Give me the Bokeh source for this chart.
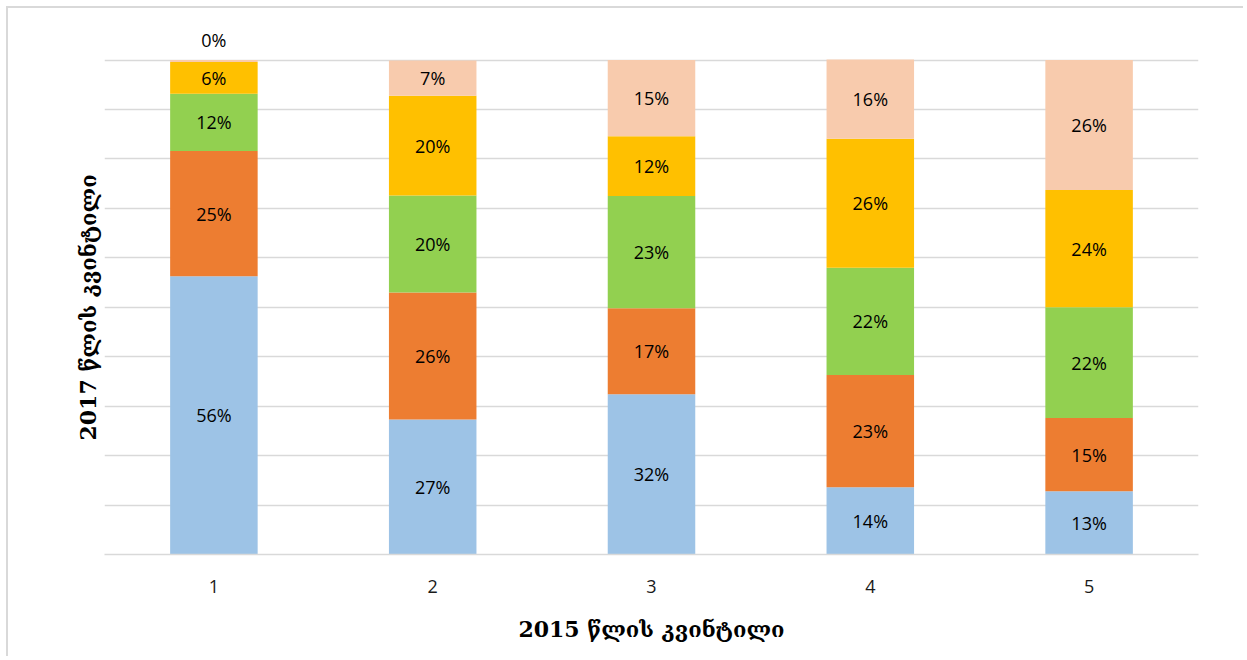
from bokeh.plotting import figure
from bokeh.models import ColumnDataSource, LabelSet, FixedTicker, Range1d, Title
from bokeh.core.properties import value
from bokeh.embed import file_html
from bokeh.resources import INLINE

# ---- data ----
categories = ["1", "2", "3", "4", "5"]          # 2015 quintile
q1 = [56.3, 27.3, 32.4, 13.6, 12.8]             # 2017 quintile 1 (blue)
q2 = [25.3, 25.7, 17.4, 22.7, 14.8]             # 2017 quintile 2 (orange)
q3 = [11.6, 19.6, 22.7, 21.7, 22.4]             # 2017 quintile 3 (green)
q4 = [6.4, 20.2, 12.1, 26.1, 23.7]              # 2017 quintile 4 (yellow)
q5 = [0.4, 7.1, 15.4, 16.0, 26.3]               # 2017 quintile 5 (peach)
series_names = ["q1", "q2", "q3", "q4", "q5"]
series = [q1, q2, q3, q4, q5]
colors = ["#9DC3E6", "#ED7D31", "#92D050", "#FFC000", "#F8CBAD"]
x_title = "2015 წლის კვინტილი"
y_title = "2017 წლის კვინტილი"
grid_ticks = list(range(0, 101, 10))

xs = [i + 1 for i in range(len(categories))]
src = ColumnDataSource(dict(x=xs, **{n: s for n, s in zip(series_names, series)}))

p = figure(width=1237, height=650, output_backend="svg", toolbar_location=None,
           x_range=Range1d(0.5, len(categories) + 0.5), y_range=Range1d(0, 108),
           min_border_left=96, min_border_right=47, min_border_top=12, min_border_bottom=104)
p.styles = {"border-left": "2px solid #D9D9D9", "border-top": "2px solid #D9D9D9",
            "margin-left": "6px", "margin-top": "6px"}
p.outline_line_color = None
p.background_fill_color = "white"
p.border_fill_color = "white"

p.vbar_stack(series_names, x="x", width=0.4, source=src, color=colors, line_color=None)

# data labels
lx, ly, lt = [], [], []
for i, x in enumerate(xs):
    base = 0.0
    total = sum(s[i] for s in series)
    for s in series:
        v = s[i]
        if v < 2:
            y = total + 4
        else:
            y = base + v / 2
        lx.append(x); ly.append(y); lt.append(f"{round(v)}%")
        base += v
lsrc = ColumnDataSource(dict(x=lx, y=ly, t=lt))
labels = LabelSet(x="x", y="y", text="t", source=lsrc, text_align="center",
                  text_baseline="middle", text_font=value("Open Sans"),
                  text_font_size=value("18px"), text_color="#000000")
p.add_layout(labels)

# axes
p.xaxis.ticker = FixedTicker(ticks=xs)
p.xaxis.major_label_overrides = {x: c for x, c in zip(xs, categories)}
p.xaxis.major_label_text_font = "Open Sans"
p.xaxis.major_label_text_font_size = "18px"
p.xaxis.major_label_text_color = "#1a1a1a"
p.xaxis.major_label_standoff = 19
p.xaxis.major_tick_line_color = None
p.xaxis.minor_tick_line_color = None
p.xaxis.axis_line_color = "#D9D9D9"
p.xaxis.axis_line_width = 1.5
p.xaxis.axis_label = x_title
p.xaxis.axis_label_text_font = "DejaVu Serif"
p.xaxis.axis_label_text_font_style = "bold"
p.xaxis.axis_label_text_font_size = "22px"
p.xaxis.axis_label_text_color = "#000000"
p.xaxis.axis_label_standoff = 20

p.yaxis.visible = False
ytitle = Title(text=y_title, align="left", offset=114, standoff=8,
               text_font="DejaVu Serif", text_font_style="bold",
               text_font_size="22px", text_color="#000000")
p.add_layout(ytitle, "left")

p.xgrid.grid_line_color = None
p.ygrid.ticker = FixedTicker(ticks=grid_ticks)
p.ygrid.grid_line_color = "#D9D9D9"
p.ygrid.grid_line_width = 1.5

open("out.html", "w").write(file_html(p, INLINE))
